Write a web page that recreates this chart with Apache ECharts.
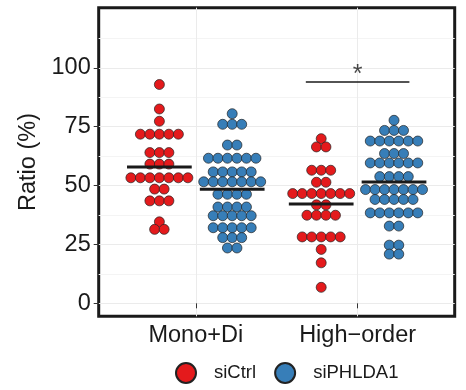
<!DOCTYPE html>
<html>
<head>
<meta charset="utf-8">
<script src="https://cdn.jsdelivr.net/npm/echarts@6/dist/echarts.min.js"></script>
<style>
  html, body { margin: 0; padding: 0; background: #fff; }
  #chart { width: 466px; height: 390px; }
</style>
</head>
<body>
<div id="chart"></div>
<script>
const categories = ['Mono+Di', 'High\u2212order'];
const groups = ['siCtrl', 'siPHLDA1'];
const yTicks = [0, 25, 50, 75, 100];
const yMinor = [12.5, 37.5, 62.5, 87.5, 112.5];

// one value per cell (dot)
const ctrlMono = [
  92.9, 82.5, 77.3,
  71.8, 71.8, 71.8, 71.8, 71.8,
  64.0, 64.0, 64.0,
  59.1, 59.1, 59.1,
  53.3, 53.3, 53.3, 53.3, 53.3, 53.3, 53.3,
  48.5, 48.5,
  43.5, 43.5, 43.5,
  34.6, 31.4, 31.4
];
const phMono = [
  80.5,
  76.0, 76.0, 76.0,
  67.2, 67.2,
  61.6, 61.6, 61.6, 61.6, 61.6, 61.6,
  55.8, 55.8, 55.8, 55.8, 55.8,
  51.6, 51.6, 51.6, 51.6, 51.6, 51.6, 51.6,
  46.3, 46.3, 46.3, 46.3,
  40.9, 40.9, 40.9, 40.9,
  37.2, 37.2, 37.2, 37.2, 37.2,
  32.1, 32.1, 32.1, 32.1, 32.1,
  27.9, 27.9, 27.9,
  23.5, 23.5
];
const ctrlHigh = [
  69.9,
  66.4, 66.4,
  56.5, 56.5, 56.5,
  51.4, 51.4,
  46.6, 46.6, 46.6, 46.6, 46.6, 46.6, 46.6,
  41.8, 41.8,
  37.4, 37.4, 37.4, 37.4,
  28.2, 28.2, 28.2, 28.2, 28.2,
  22.9, 17.2, 6.8
];
const phHigh = [
  77.7,
  73.4, 73.4, 73.4,
  68.9, 68.9, 68.9, 68.9, 68.9, 68.9,
  63.6, 63.6, 63.6,
  59.6, 59.6, 59.6, 59.6, 59.6, 59.6,
  53.8, 53.8, 53.8, 53.8,
  48.3, 48.3, 48.3, 48.3, 48.3, 48.3, 48.3,
  44.1, 44.1, 44.1, 44.1, 44.1,
  38.4, 38.4, 38.4, 38.4, 38.4, 38.4,
  32.8, 32.8,
  24.7, 24.7,
  20.9, 20.9
];
const sigBar = [1.68, 2.32, 94];

const font = 'Liberation Sans, Arial, Helvetica, sans-serif';
const colors = ['#E41A1C', '#377EB8'];
const dodge = 0.225;
const dotStep = 0.0587;

function swarm(vals, center) {
  const rows = {};
  const order = [];
  vals.forEach(v => {
    if (!rows[v]) { rows[v] = 0; order.push(v); }
    rows[v]++;
  });
  const pts = [];
  order.forEach(v => {
    const n = rows[v];
    for (let i = 0; i < n; i++) pts.push([center + (i - (n - 1) / 2) * dotStep, v]);
  });
  return pts;
}
const mean = a => a.reduce((s, v) => s + v, 0) / a.length;
function meanLine(vals, center) {
  const m = mean(vals);
  return {
    type: 'line', data: [[center - 0.2, m], [center + 0.2, m]],
    symbol: 'none', z: 5, silent: true,
    lineStyle: { color: '#1a1a1a', width: 3 }
  };
}

const chart = echarts.init(document.getElementById('chart'));
chart.setOption({
  animation: false,
  backgroundColor: '#fff',
  grid: {
    left: 98.7, right: 11.3, top: 7.7, bottom: 73.7,
    show: true, borderColor: '#1a1a1a', borderWidth: 3, backgroundColor: '#fff'
  },
  legend: {
    data: groups, left: 170, top: 357, itemWidth: 20, itemHeight: 20, itemGap: 18,
    icon: 'circle',
    textStyle: { fontFamily: font, fontSize: 18.5, color: '#1a1a1a', padding: [0, 0, 0, 13] }
  },
  xAxis: {
    type: 'value', min: 0.4, max: 2.6,
    axisLine: { show: false },
    axisTick: { show: true, length: 5, customValues: [1, 2], lineStyle: { color: '#333', width: 1 } },
    axisLabel: {
      customValues: [1, 2], margin: 7, fontFamily: font, fontSize: 23.5, color: '#1a1a1a',
      formatter: v => categories[Math.round(v) - 1]
    },
    splitLine: { show: true, lineStyle: { color: '#ebebeb', width: 1 } }
  },
  yAxis: [{
    type: 'value', min: -5.5, max: 125.5,
    name: 'Ratio (%)', nameLocation: 'middle', nameGap: 53,
    nameTextStyle: { fontFamily: font, fontSize: 23.5, color: '#1a1a1a' },
    axisLine: { show: false },
    axisTick: { show: true, length: 5, customValues: yTicks, lineStyle: { color: '#333', width: 1 } },
    axisLabel: { customValues: yTicks, margin: 8, fontFamily: font, fontSize: 23.5, color: '#1a1a1a' },
    splitLine: { show: true, lineStyle: { color: '#ebebeb', width: 1 } }
  }, {
    type: 'value', min: -5.5, max: 125.5, position: 'left',
    axisLine: { show: false },
    axisTick: { show: false, customValues: yMinor },
    axisLabel: { show: false, customValues: yMinor },
    splitLine: { show: true, lineStyle: { color: '#f4f4f4', width: 1 } }
  }],
  series: [
    {
      name: 'siCtrl', type: 'scatter', symbolSize: 10, z: 3,
      itemStyle: { color: colors[0], borderColor: '#222', borderWidth: 0.7, opacity: 1 },
      data: swarm(ctrlMono, 1 - dodge).concat(swarm(ctrlHigh, 2 - dodge))
    },
    {
      name: 'siPHLDA1', type: 'scatter', symbolSize: 10, z: 3,
      itemStyle: { color: colors[1], borderColor: '#222', borderWidth: 0.7, opacity: 1 },
      data: swarm(phMono, 1 + dodge).concat(swarm(phHigh, 2 + dodge))
    },
    meanLine(ctrlMono, 1 - dodge),
    meanLine(phMono, 1 + dodge),
    meanLine(ctrlHigh, 2 - dodge),
    meanLine(phHigh, 2 + dodge),
    {
      type: 'line', data: [[sigBar[0], sigBar[2]], [sigBar[1], sigBar[2]]],
      symbol: 'none', silent: true, lineStyle: { color: '#1a1a1a', width: 1.5 }
    },
    {
      type: 'scatter', silent: true, symbolSize: 0,
      data: [[2, 97]],
      label: { show: true, position: 'inside', formatter: '*', fontFamily: font, fontSize: 25, color: '#1a1a1a' }
    }
  ]
});
</script>
</body>
</html>
